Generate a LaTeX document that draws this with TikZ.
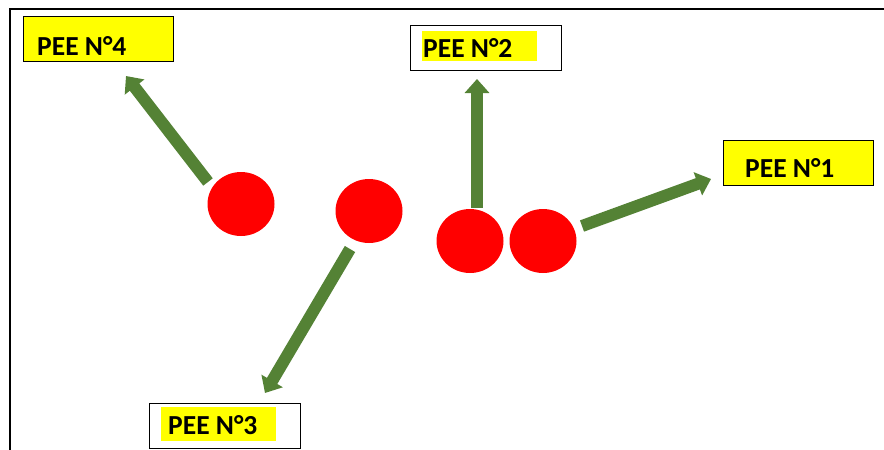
\documentclass[tikz,border=0pt]{standalone}
\usepackage{fontspec}
\setmainfont{Carlito}
\usetikzlibrary{arrows.meta,shapes.geometric}
\definecolor{arrgreen}{HTML}{548235}
\definecolor{hiyellow}{HTML}{FFFF00}
\tikzset{
  dot/.style={ellipse,fill=red,draw=none,minimum width=67pt,minimum height=64pt,inner sep=0pt},
  ybox/.style={draw=black,line width=1.2pt,fill=hiyellow,minimum width=150pt,minimum height=45pt,inner sep=0pt},
  wbox/.style={draw=black,line width=1.2pt,fill=white,minimum width=151pt,minimum height=45pt,inner sep=0pt},
  hilite/.style={fill=hiyellow,draw=none,inner sep=0pt},
  lbl/.style={font=\fontsize{27.5}{32}\selectfont\bfseries,inner sep=0pt,anchor=base west},
  bigarrow/.style={draw=arrgreen,line width=12pt,-{Triangle[width=24pt,length=14pt]}},
}
\begin{document}
\begin{tikzpicture}[x=1pt,y=-1pt]
\useasboundingbox (0,0) rectangle (884,450);
\fill[white] (0,0) rectangle (884,450);
% frame
\draw[line width=2pt] (10,450) -- (10,9) -- (884,9);
% boxes
\node[ybox,anchor=north west] (b4) at (23,16) {};
\node[lbl] (t4) at (37,55) {PEE N°4};
\node[wbox,anchor=north west] (b2) at (410,25) {};
\node[hilite,minimum width=115pt,minimum height=30pt,anchor=north west] (h2) at (422,31) {};
\node[lbl] (t2) at (423,57) {PEE N°2};
\node[ybox,anchor=north west] (b1) at (723,140) {};
\node[lbl] (t1) at (745,177) {PEE N°1};
\node[wbox,anchor=north west] (b3) at (149,403) {};
\node[hilite,minimum width=115pt,minimum height=34pt,anchor=north west] (h3) at (161,407) {};
\node[lbl] (t3) at (168,434) {PEE N°3};
% circles
\node[dot] (c4) at (241,204) {};
\node[dot] (c3) at (369,211) {};
\node[dot] (c2) at (470,241) {};
\node[dot] (c1) at (543,241) {};
% arrow ends
\coordinate (s4) at (208,182);
\coordinate (e4) at (126,76);
\coordinate (s2) at (477,208);
\coordinate (e2) at (477,79);
\coordinate (s1) at (582,226);
\coordinate (e1) at (711,179);
\coordinate (s3) at (350,249);
\coordinate (e3) at (265,393);
\draw[bigarrow] (s4) -- (e4);
\draw[bigarrow] (s2) -- (e2);
\draw[bigarrow] (s1) -- (e1);
\draw[bigarrow] (s3) -- (e3);
\end{tikzpicture}
\end{document}
